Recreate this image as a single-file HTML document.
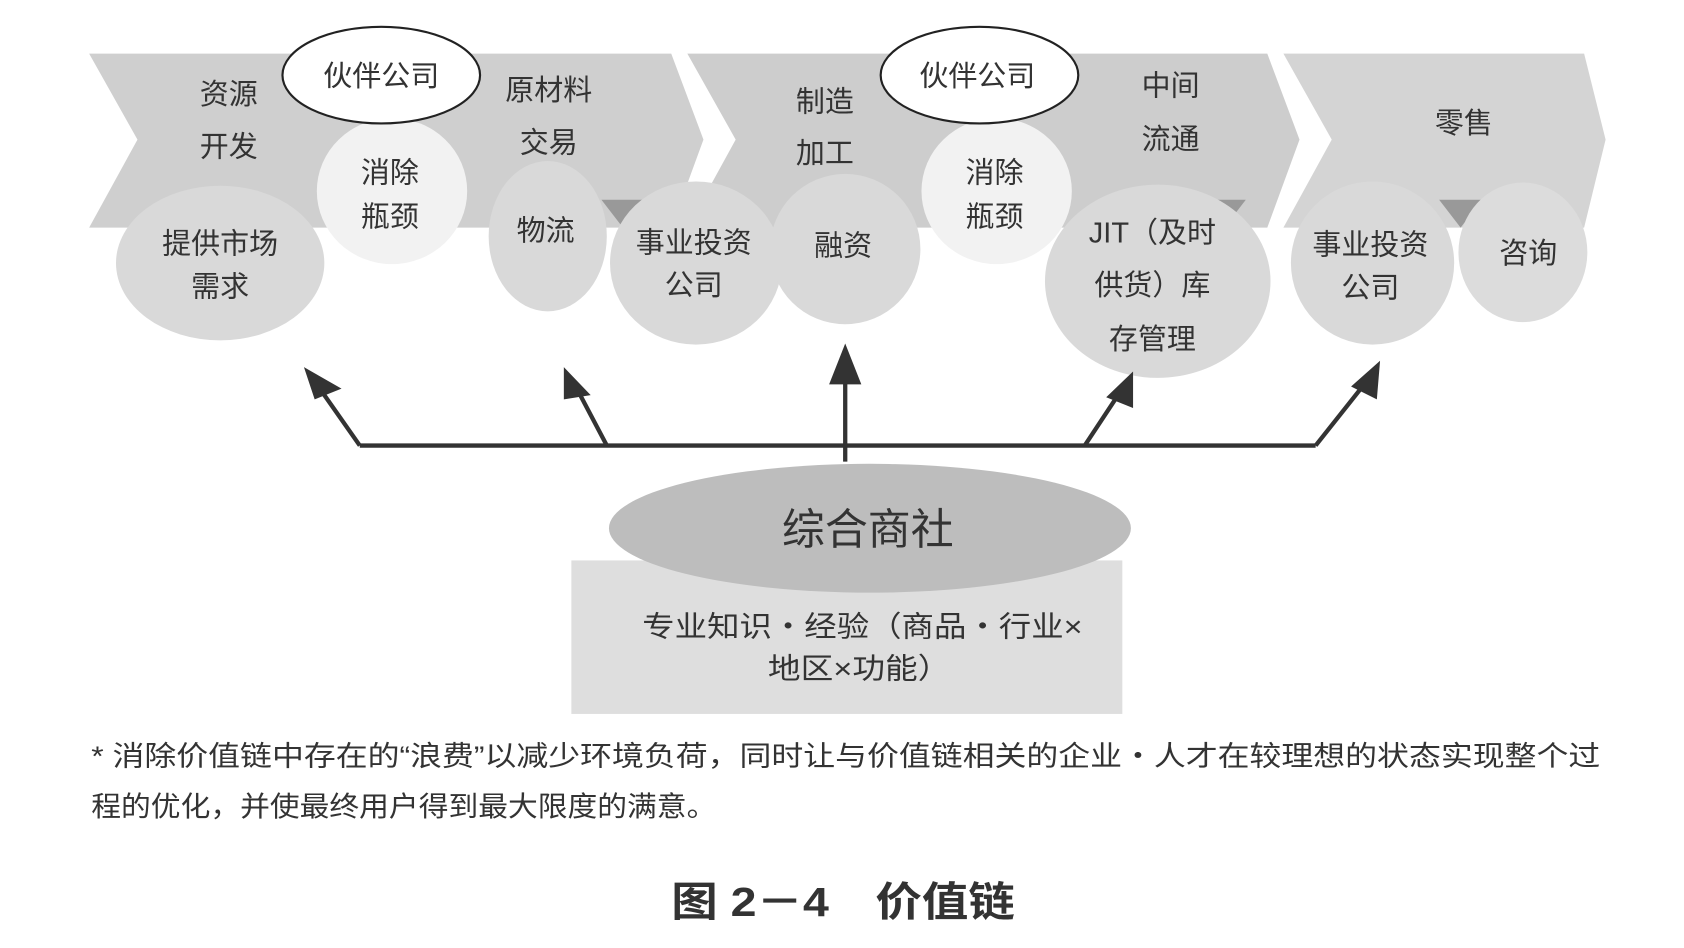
<!DOCTYPE html>
<html><head><meta charset="utf-8"><style>
html,body{margin:0;padding:0;background:#fff;}
svg{display:block;}
text{font-family:"Liberation Sans","Noto Sans CJK SC",sans-serif;fill:#333;}
</style></head><body>
<svg width="1684" height="948" viewBox="0 0 1568 883" preserveAspectRatio="none" xmlns="http://www.w3.org/2000/svg">
<rect width="1568" height="883" fill="#fff"/>
<polygon points="83,50 625,50 655,130 625,212 83,212 128,130" fill="#cfcfcf"/>
<polygon points="640,50 1180,50 1210,130 1180,212 640,212 685,130" fill="#cdcdcd"/>
<polygon points="1195,50 1475,50 1495,130 1475,212 1195,212 1240,130" fill="#d4d4d4"/>
<polygon points="560,186 600,186 580,212" fill="#999"/>
<polygon points="1120,186 1160,186 1140,212" fill="#999"/>
<polygon points="1340,186 1380,186 1360,212" fill="#999"/>
<ellipse cx="365" cy="178" rx="70" ry="68" fill="#f2f2f2"/>
<ellipse cx="928" cy="178" rx="70" ry="68" fill="#f2f2f2"/>
<ellipse cx="355" cy="70" rx="92" ry="45" fill="#fff" stroke="#222" stroke-width="2"/>
<ellipse cx="912" cy="70" rx="92" ry="45" fill="#fff" stroke="#222" stroke-width="2"/>
<ellipse cx="205" cy="245" rx="97" ry="72" fill="#d9d9d9"/>
<ellipse cx="510" cy="220" rx="55" ry="70" fill="#d9d9d9"/>
<ellipse cx="648" cy="245" rx="80" ry="76" fill="#d9d9d9"/>
<ellipse cx="787" cy="232" rx="70" ry="70" fill="#d9d9d9"/>
<ellipse cx="1078" cy="262" rx="105" ry="90" fill="#d9d9d9"/>
<ellipse cx="1278" cy="245" rx="76" ry="76" fill="#d9d9d9"/>
<ellipse cx="1418" cy="235" rx="60" ry="65" fill="#dcdcdc"/>
<g font-size="27" text-anchor="middle">
<text x="213" y="97">资源</text><text x="213" y="146">开发</text>
<text x="355" y="80">伙伴公司</text>
<text x="363" y="170">消除</text><text x="363" y="211">瓶颈</text>
<text x="511" y="93">原材料</text><text x="511" y="142">交易</text>
<text x="768" y="104">制造</text><text x="768" y="152">加工</text>
<text x="910" y="80">伙伴公司</text>
<text x="926" y="170">消除</text><text x="926" y="211">瓶颈</text>
<text x="1090" y="89">中间</text><text x="1090" y="139">流通</text>
<text x="1363" y="124">零售</text>
<text x="205" y="236">提供市场</text><text x="205" y="276">需求</text>
<text x="508" y="224">物流</text>
<text x="646" y="235">事业投资</text><text x="646" y="275">公司</text>
<text x="785" y="238">融资</text>
<text x="1073" y="226">JIT（及时</text><text x="1073" y="275">供货）库</text><text x="1073" y="325">存管理</text>
<text x="1276" y="237">事业投资</text><text x="1276" y="277">公司</text>
<text x="1423" y="245">咨询</text>
</g>
<g stroke="#333" stroke-width="4" fill="none">
<polyline points="335,415 1225,415"/>
<line x1="335" y1="415" x2="295" y2="358"/>
<line x1="565" y1="415" x2="535" y2="358"/>
<line x1="787" y1="430" x2="787" y2="340"/>
<line x1="1010" y1="415" x2="1045" y2="362"/>
<line x1="1225" y1="415" x2="1275" y2="352"/>
</g>
<g fill="#333">
<polygon points="283,342 318,362 293,372"/>
<polygon points="525,342 550,368 525,372"/>
<polygon points="787,320 802,358 772,358"/>
<polygon points="1055,346 1055,380 1030,370"/>
<polygon points="1285,336 1282,372 1258,360"/>
</g>
<rect x="532" y="522" width="513" height="143" fill="#dedede"/>
<ellipse cx="810" cy="492" rx="243" ry="60" fill="#bdbdbd"/>
<text x="808" y="507" font-size="40" text-anchor="middle">综合商社</text>
<text x="598" y="593" font-size="27" textLength="410" lengthAdjust="spacingAndGlyphs">专业知识・经验（商品・行业×</text>
<text x="715" y="632" font-size="27" textLength="170" lengthAdjust="spacingAndGlyphs">地区×功能）</text>
<text x="85" y="713" font-size="26" textLength="1405" lengthAdjust="spacingAndGlyphs">* 消除价值链中存在的“浪费”以减少环境负荷，同时让与价值链相关的企业・人才在较理想的状态实现整个过</text>
<text x="85" y="760" font-size="26" textLength="582" lengthAdjust="spacingAndGlyphs">程的优化，并使最终用户得到最大限度的满意。</text>
<text x="625" y="853" font-size="38" font-weight="bold" textLength="320" lengthAdjust="spacingAndGlyphs">图 2－4　价值链</text>
</svg>
</body></html>
